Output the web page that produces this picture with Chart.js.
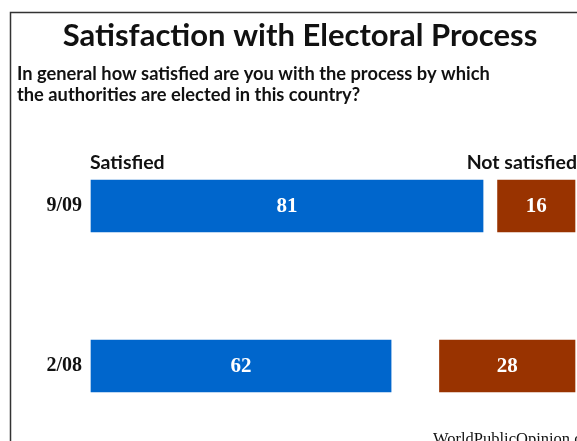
<!DOCTYPE html>
<html>
<head>
<meta charset="utf-8">
<script src="https://cdn.jsdelivr.net/npm/chart.js@4"></script>
<style>
	html, body { margin: 0; padding: 0; background: #fff; }
	#wrap { position: relative; width: 577px; height: 441px; }
</style>
</head>
<body>
<div id="wrap"><canvas id="satisfactionChart" width="577" height="441"></canvas></div>
<script>
// Satisfaction with Electoral Process - horizontal bars

const periods = ["9/09", "2/08"];
const satisfied = [81, 62];
const notSatisfied = [16, 28];
const scaleMax = 100;

const title = "Satisfaction with Electoral Process";
const question = [
	"In general how satisfied are you with the process by which",
	"the authorities are elected in this country?",
];
const seriesNames = ["Satisfied", "Not satisfied"];
const sourceNote = "WorldPublicOpinion.org";

const colors = {
	blue: "#0066cc",
	brown: "#993300",
	text: "#111111",
	frame: "#333333",
};

const sansFamily = "Lato, 'Open Sans', sans-serif";
const serifFamily = "'Liberation Serif', 'DejaVu Serif', serif";

// Frame, heading and series names around the plot
const decorPlugin = {
	id: "decor",
	afterDraw(chart) {
		const { ctx, chartArea } = chart;
		ctx.save();

		ctx.strokeStyle = colors.frame;
		ctx.lineWidth = 1.5;
		ctx.beginPath();
		ctx.moveTo(10.5, 441);
		ctx.lineTo(10.5, 12.5);
		ctx.lineTo(577, 12.5);
		ctx.stroke();

		ctx.fillStyle = colors.text;
		ctx.textBaseline = "alphabetic";

		ctx.font = `bold 31px ${sansFamily}`;
		ctx.textAlign = "center";
		ctx.fillText(title, 300, 46);

		ctx.font = `bold 18.3px ${sansFamily}`;
		ctx.textAlign = "left";
		ctx.fillText(question[0], 17, 80);
		ctx.fillText(question[1], 17, 101);

		ctx.font = `bold 19.5px ${sansFamily}`;
		ctx.fillText(seriesNames[0], chartArea.left - 1, 169);
		ctx.textAlign = "right";
		ctx.fillText(seriesNames[1], 577, 169);

		ctx.font = `16.5px ${serifFamily}`;
		ctx.textAlign = "left";
		ctx.textBaseline = "top";
		ctx.fillText(sourceNote, 433, 431);

		// value labels centred in each bar
		ctx.font = `bold 21px ${serifFamily}`;
		ctx.fillStyle = "#ffffff";
		ctx.textAlign = "center";
		ctx.textBaseline = "middle";
		const values = [satisfied, notSatisfied];
		chart.data.datasets.forEach((ds, di) => {
			chart.getDatasetMeta(di).data.forEach((bar, i) => {
				const cx = (bar.x + bar.base) / 2;
				ctx.fillText(String(values[di][i]), cx, bar.y + 1);
			});
		});

		ctx.restore();
	},
};

new Chart(document.getElementById("satisfactionChart"), {
	type: "bar",
	data: {
		labels: periods,
		datasets: [
			{
				label: seriesNames[0],
				data: satisfied,
				backgroundColor: colors.blue,
			},
			{
				label: seriesNames[1],
				data: notSatisfied.map((v) => [scaleMax - v, scaleMax]),
				backgroundColor: colors.brown,
			},
		],
	},
	options: {
		indexAxis: "y",
		responsive: false,
		animation: false,
		events: [],
		layout: {
			padding: { top: 206, bottom: 75, left: 0, right: 2 },
		},
		datasets: {
			bar: {
				grouped: false,
				barThickness: 52,
				borderWidth: 0,
				clip: false,
			},
		},
		scales: {
			x: {
				display: false,
				min: 0,
				max: scaleMax,
			},
			y: {
				offset: false,
				grid: { display: false },
				border: { display: false },
				afterFit: (scale) => {
					scale.width = 91;
				},
				ticks: {
					color: colors.text,
					font: { family: serifFamily, size: 20, weight: "bold" },
					padding: 1,
				},
			},
		},
		plugins: {
			legend: { display: false },
			tooltip: { enabled: false },
		},
	},
	plugins: [decorPlugin],
});
</script>
</body>
</html>
